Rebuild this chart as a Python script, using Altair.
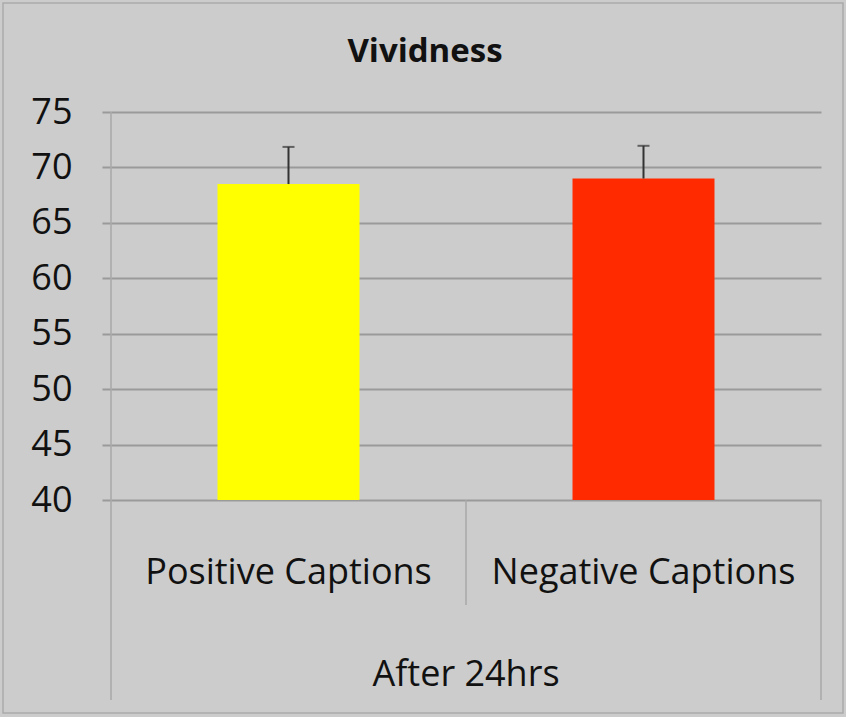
import altair as alt
import pandas as pd

categories = ["Positive Captions", "Negative Captions"]
means = [68.5, 69.0]
errors = [3.35, 2.95]
colors = ["#ffff00", "#ff2a00"]
group_label = "After 24hrs"
title_text = "Vividness"
y_ticks = [40, 45, 50, 55, 60, 65, 70, 75]

df = pd.DataFrame({
    "cat": categories,
    "mean": means,
    "top": [m + e for m, e in zip(means, errors)],
    "color": colors,
})

FONT = "Liberation Sans Narrow, Open Sans, sans-serif"
GRID = "#9a9a9a"
LINE = "#a8a8a8"

xenc = alt.X("cat:N", sort=categories, axis=None,
             scale=alt.Scale(paddingInner=0, paddingOuter=0))
yscale = alt.Scale(domain=[40, 75], nice=False, zero=False)

bars = alt.Chart(df).mark_bar(width={"band": 0.4}).encode(
    x=xenc,
    y=alt.Y("mean:Q", scale=yscale,
            axis=alt.Axis(values=y_ticks, title=None, grid=True, gridColor=GRID,
                          gridWidth=2, tickColor=GRID, tickSize=9, tickWidth=2,
                          domain=False, labelFont=FONT, labelFontSize=36,
                          labelColor="#111", labelPadding=30)),
    y2=alt.datum(40),
    color=alt.Color("color:N", scale=None),
)

err = alt.Chart(df).mark_rule(color="#333", strokeWidth=2).encode(
    x=xenc, y=alt.Y("mean:Q", scale=yscale), y2="top:Q")
cap = alt.Chart(df).mark_tick(color="#333", size=12, thickness=2).encode(
    x=xenc, y=alt.Y("top:Q", scale=yscale))

cat_text = alt.Chart(df).mark_text(font=FONT, fontSize=36, color="#111",
                                   baseline="middle").encode(
    x=xenc, y=alt.value(461), text="cat:N")

one = pd.DataFrame({"label": [group_label], "title": [title_text]})
group_text = alt.Chart(one).mark_text(font=FONT, fontSize=36, color="#111",
                                      baseline="middle").encode(
    x=alt.value(355), y=alt.value(563), text="label:N")
title = alt.Chart(one).mark_text(font=FONT, fontSize=33, fontWeight="bold",
                                 color="#111", baseline="middle").encode(
    x=alt.value(314), y=alt.value(-60), text="title:N")

left_line = alt.Chart(one).mark_rule(color=LINE, strokeWidth=1.5).encode(
    x=alt.value(0), y=alt.value(0), y2=alt.value(588))
mid_line = alt.Chart(one).mark_rule(color=LINE, strokeWidth=1.5).encode(
    x=alt.value(355), y=alt.value(388), y2=alt.value(493))
right_line = alt.Chart(one).mark_rule(color=LINE, strokeWidth=1.5).encode(
    x=alt.value(710), y=alt.value(388), y2=alt.value(588))
border = alt.Chart(one).mark_rect(fill=None, stroke="#aaaaaa", strokeWidth=1.5).encode(
    x=alt.value(-108), x2=alt.value(732), y=alt.value(-109), y2=alt.value(601))

chart = alt.layer(border, left_line, mid_line, right_line, bars, err, cap,
                  cat_text, group_text, title).properties(
    width=710, height=388,
    autosize=alt.AutoSizeParams(type="none"),
    padding={"left": 111, "top": 112, "right": 25, "bottom": 217},
    background="#cccccc",
).configure_view(stroke=None, fill="#cccccc")

chart.save("out.html", embed_options={"renderer": "svg", "actions": False})
